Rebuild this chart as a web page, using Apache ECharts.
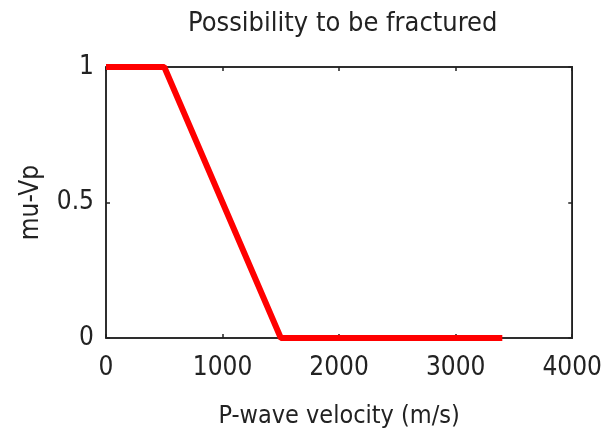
<!DOCTYPE html>
<html>
<head>
<meta charset="utf-8">
<script src="https://cdn.jsdelivr.net/npm/echarts@6/dist/echarts.min.js"></script>
<style>
  html, body { margin: 0; padding: 0; background: #fff; }
  #chart { width: 605px; height: 438px; }
</style>
</head>
<body>
<div id="chart"></div>
<script>
// Membership function: possibility of fracturing vs P-wave velocity
const velocity = [0, 500, 1500, 3400];
const muVp = [1, 1, 0, 0];
const xTicks = [0, 1000, 2000, 3000, 4000];
const yTicks = [0, 0.5, 1];

const FONT = '"Liberation Sans Narrow", "DejaVu Sans Condensed", "Liberation Sans", sans-serif';
const TXT = '#222';

const points = velocity.map((v, i) => [v, muVp[i]]);

const chart = echarts.init(document.getElementById('chart'));

const axisLine = () => ({ show: true, onZero: false, lineStyle: { color: '#222', width: 1.5 } });
const tickIn = () => ({ show: true, inside: true, length: 4, lineStyle: { color: '#222', width: 1.5 } });
// mirrored axes: ticks pointing into the plot box
const tickMirror = () => ({ show: true, inside: false, length: -4, lineStyle: { color: '#222', width: 1.5 } });

chart.setOption({
  animation: false,
  title: {
    text: 'Possibility to be fractured',
    left: 183,
    top: 5,
    textStyle: { fontFamily: FONT, fontSize: 27, fontWeight: 'normal', color: TXT }
  },
  grid: { left: 106, right: 32, top: 67, bottom: 100, show: true, borderColor: '#222', borderWidth: 1.5, backgroundColor: 'transparent' },
  xAxis: [
    {
      type: 'value', min: 0, max: 4000, interval: 1000, position: 'bottom',
      name: 'P-wave velocity (m/s)', nameLocation: 'middle', nameGap: 66,
      nameTextStyle: { fontFamily: FONT, fontSize: 25, color: TXT },
      axisLine: axisLine(), axisTick: tickIn(), splitLine: { show: false },
      axisLabel: { fontFamily: FONT, fontSize: 26, color: TXT, margin: 17,
        formatter: v => xTicks.includes(v) ? String(v) : '' }
    },
    {
      type: 'value', min: 0, max: 4000, interval: 1000, position: 'top',
      axisLine: axisLine(), axisTick: tickMirror(), axisLabel: { show: false }, splitLine: { show: false }
    }
  ],
  yAxis: [
    {
      type: 'value', min: 0, max: 1, interval: 0.5, position: 'left',
      name: 'mu-Vp', nameLocation: 'middle', nameGap: 62, nameRotate: 90,
      nameTextStyle: { fontFamily: FONT, fontSize: 26, color: TXT },
      axisLine: axisLine(), axisTick: tickIn(), splitLine: { show: false },
      axisLabel: { fontFamily: FONT, fontSize: 26, color: TXT, margin: 12,
        formatter: v => yTicks.includes(v) ? String(v) : '' }
    },
    {
      type: 'value', min: 0, max: 1, interval: 0.5, position: 'right',
      axisLine: axisLine(), axisTick: tickMirror(), axisLabel: { show: false }, splitLine: { show: false }
    }
  ],
  series: [{
    type: 'line',
    data: points,
    showSymbol: false,
    lineStyle: { color: '#ff0000', width: 6 },
    clip: false,
    z: 5
  }]
});
</script>
</body>
</html>
